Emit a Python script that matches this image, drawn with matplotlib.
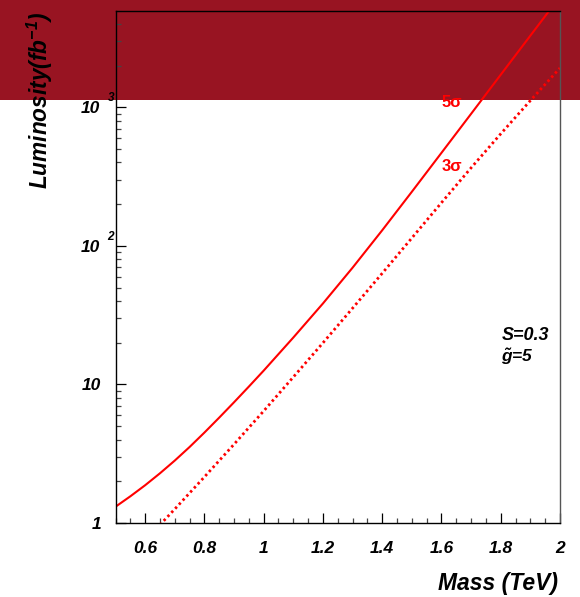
import matplotlib
matplotlib.use("Agg")
import matplotlib.pyplot as plt
from matplotlib.patches import Rectangle
from matplotlib.ticker import FixedLocator, LogLocator, NullFormatter, MultipleLocator
from matplotlib.transforms import blended_transform_factory, offset_copy

plt.rcParams['font.family'] = ['Liberation Sans', 'DejaVu Sans']
plt.rcParams['mathtext.fontset'] = 'custom'
plt.rcParams['mathtext.rm'] = 'Liberation Sans:bold:italic'
plt.rcParams['mathtext.it'] = 'Liberation Sans:bold:italic'
plt.rcParams['mathtext.bf'] = 'Liberation Sans:bold:italic'

# Data
mass_5s = [0.50, 0.55, 0.60, 0.65, 0.70, 0.75, 0.80, 0.85, 0.90, 0.95, 1.00, 1.10, 1.20,
           1.30, 1.40, 1.50, 1.60, 1.70, 1.80, 1.90, 2.00]
lum_5s = [1.31, 1.558, 1.873, 2.284, 2.822, 3.536, 4.493, 5.762, 7.437, 9.65, 12.58, 21.8, 38.4,
          69.6, 129.6, 245.8, 469.5, 898, 1720, 3293, 6302]
mass_3s = [0.65, 0.70, 0.80, 0.90, 1.00, 1.10, 1.20, 1.30, 1.40, 1.50, 1.60, 1.70, 1.80, 1.90, 2.00]
lum_3s = [0.97, 1.26, 2.15, 3.70, 6.43, 11.3, 19.95, 35.5, 63.4, 114, 205, 366, 644, 1119, 1923]

x_ticks = [0.6, 0.8, 1.0, 1.2, 1.4, 1.6, 1.8, 2.0]
x_ticklabels = ['0.6', '0.8', '1', '1.2', '1.4', '1.6', '1.8', '2']
y_ticks = [1, 10, 100, 1000]
y_base = ['1', '10', '10', '10']
y_exp = ['', '', '2', '3']

fig = plt.figure(figsize=(5.8, 5.97), dpi=100)
fig.patch.set_facecolor('white')
band = Rectangle((0, 1 - 100 / 597), 1, 100 / 597, transform=fig.transFigure,
                 facecolor='#981422', edgecolor='none', zorder=-1)
fig.patches.append(band)

ax = fig.add_axes([115.5 / 580, 1 - 523 / 597, (560 - 115.5) / 580, (523 - 10.5) / 597])
ax.patch.set_facecolor('none')

ax.plot(mass_5s, lum_5s, color='#ff0000', lw=1.5, solid_capstyle='butt')
ax.plot(mass_3s, lum_3s, color='#ff0000', lw=2.0, linestyle=(0, (0.9, 1.1)))

ax.set_xlim(0.5, 2.0)
ax.set_yscale('log')
ax.set_ylim(1, 5000)

ax.xaxis.set_major_locator(FixedLocator(x_ticks))
ax.xaxis.set_minor_locator(MultipleLocator(0.05))
ax.set_xticklabels(x_ticklabels)
ax.yaxis.set_major_locator(FixedLocator(y_ticks))
ax.yaxis.set_minor_locator(LogLocator(base=10, subs=range(2, 10)))
ax.yaxis.set_minor_formatter(NullFormatter())
ax.set_yticklabels([])

ax.tick_params(axis='both', which='major', direction='in', length=7.2, width=0.9,
               top=False, right=False, color='black')
ax.tick_params(axis='both', which='minor', direction='in', length=3.6, width=0.9,
               top=False, right=False, color='#444444')
ax.tick_params(axis='x', which='major', pad=13, labelsize=12.5)
for lab in ax.get_xticklabels():
    lab.set_fontweight('bold')
    lab.set_fontstyle('italic')

for sp in ax.spines.values():
    sp.set_linewidth(1.0)
    sp.set_color('black')
ax.spines['right'].set_color('#555555')

# y tick labels, ROOT style (base + raised exponent)
trans = blended_transform_factory(ax.transAxes, ax.transData)
for v, b, e in zip(y_ticks, y_base, y_exp):
    off = -14.5 if not e else -15.5
    t = offset_copy(trans, fig=fig, x=off, y=-1.5, units='dots')
    ax.text(0, v, b, transform=t, ha='right', va='center', fontsize=12.5,
            fontweight='bold', fontstyle='italic', clip_on=False)
    if e:
        t2 = offset_copy(trans, fig=fig, x=-8, y=9, units='dots')
        ax.text(0, v, e, transform=t2, ha='left', va='center', fontsize=8.5,
                fontweight='bold', fontstyle='italic', clip_on=False)

# curve labels
ax.text(1.60, 1000, '5σ', color='#ff0000', fontsize=12, fontweight='bold',
        ha='left', va='baseline')
ax.text(1.60, 350, '3σ', color='#ff0000', fontsize=12, fontweight='bold',
        ha='left', va='baseline')

ax.text(1.802, 20.8, 'S=0.3', fontsize=13, fontweight='bold', fontstyle='italic',
        ha='left', va='baseline')
ax.text(1.802, 14.6, r'$\tilde{g}$=5', fontsize=12.5, fontweight='bold', fontstyle='italic',
        ha='left', va='baseline')

fig.text(558 / 580, 1 - 583.7 / 597, 'Mass (TeV)', ha='right', va='center',
         fontsize=16.5, fontweight='bold', fontstyle='italic')
fig.text(40 / 580, 1 - 12 / 597, r'Luminosity(fb$^{-1}$)', rotation=90,
         ha='center', va='top', fontsize=16.3, fontweight='bold', fontstyle='italic')

fig.savefig('out.png', dpi=100)
